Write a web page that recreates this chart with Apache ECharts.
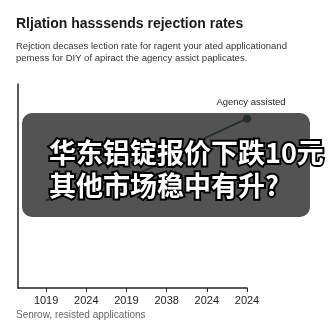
<!DOCTYPE html>
<html>
<head>
<meta charset="utf-8">
<script src="https://cdn.jsdelivr.net/npm/echarts@6/dist/echarts.min.js"></script>
<style>
  html, body { margin: 0; padding: 0; background: #fff; }
  #chart { width: 332px; height: 332px; }
</style>
</head>
<body>
<div id="chart"></div>
<script>
  // tick labels under the x axis (as printed)
  let yearLabels = ['1019', '2024', '2019', '2038', '2024', '2024']
  // agency assisted series
  let agencyValues = [43, 48, 54, 62, 74, 83]

  let chart = echarts.init(document.getElementById('chart'))

  let points = agencyValues.map(function (v, i) { return [i, v] })
  let tickPos = yearLabels.map(function (l, i) { return i })
  let sans = '"Liberation Sans", Arial, sans-serif'

  let option = {
    animation: false,
    textStyle: { fontFamily: sans },
    grid: { left: 18, right: 85, top: 84, bottom: 44 },
    xAxis: {
      type: 'value',
      min: -0.7,
      max: 5,
      splitLine: { show: false },
      axisLine: { lineStyle: { color: '#222', width: 1.5 } },
      axisTick: { show: true, length: 4, customValues: tickPos, lineStyle: { color: '#222' } },
      axisLabel: {
        customValues: tickPos,
        margin: 7,
        color: '#222',
        fontSize: 11,
        formatter: function (v) { return yearLabels[Math.round(v)] }
      }
    },
    yAxis: {
      type: 'value',
      min: 0,
      max: 100,
      splitLine: { show: false },
      axisLine: { show: true, onZero: false, lineStyle: { color: '#222', width: 1.5 } },
      axisTick: { show: false },
      axisLabel: { show: false }
    },
    series: [
      {
        name: 'Agency assisted',
        type: 'line',
        data: points,
        lineStyle: { color: '#1f4a2e', width: 2 },
        itemStyle: { color: '#1f4a2e' },
        symbol: function (val, params) { return params.dataIndex === agencyValues.length - 1 ? 'circle' : 'none' },
        symbolSize: 8,
        label: {
          show: true,
          position: 'top',
          distance: 7,
          offset: [4, 0],
          color: '#222',
          fontSize: 9.5,
          formatter: function (p) { return p.dataIndex === agencyValues.length - 1 ? 'Agency assisted' : '' }
        }
      }
    ],
    graphic: [
      {
        type: 'text', left: 16, top: 17,
        style: { text: 'Rljation hasssends rejection rates', font: 'bold 14px ' + sans, fill: '#1a1a1a' }
      },
      {
        type: 'text', left: 16, top: 40,
        style: {
          text: 'Rejction decases lection rate for ragent your ated applicationand\npemess for DIY of apiract the agency assict paplicates.',
          font: '9.5px ' + sans, fill: '#333', lineHeight: 12
        }
      },
      {
        type: 'text', left: 16, top: 310,
        style: { text: 'Senrow, resisted applications', font: '10px ' + sans, fill: '#666' }
      },
      {
        type: 'rect', z: 100,
        shape: { x: 22, y: 113, width: 288, height: 104, r: 10 },
        style: { fill: 'rgba(40,40,40,0.8)' }
      },
      {
        type: 'text', z: 101, left: 47, top: 136,
        style: {
          text: '华东铝锭报价下跌10元\n其他市场稳中有升?',
          font: 'bold 27px "Noto Sans CJK SC", sans-serif',
          lineHeight: 33,
          fill: '#fff', stroke: '#000', lineWidth: 4
        }
      }
    ]
  }

  chart.setOption(option)
</script>
</body>
</html>
